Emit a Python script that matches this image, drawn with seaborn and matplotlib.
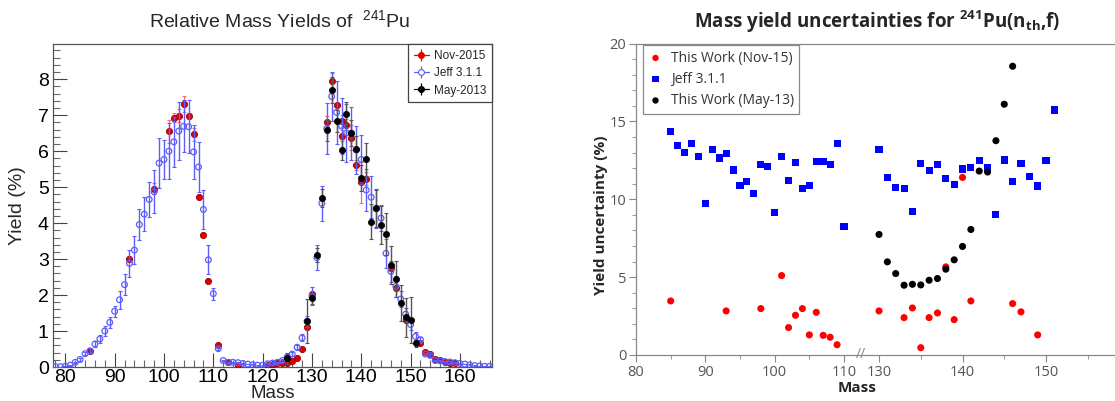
import numpy as np
import matplotlib
matplotlib.use("Agg")
import matplotlib.pyplot as plt
import seaborn as sns
from matplotlib.lines import Line2D
from matplotlib.legend_handler import HandlerTuple
from matplotlib.ticker import MultipleLocator, FixedLocator, NullFormatter

# ---------------- data : left panel (relative mass yields, %) ----------------
jeff_mass = list(range(78, 167))
jeff_yield = [0.01, 0.01, 0.02, 0.05, 0.13, 0.21, 0.37, 0.45, 0.64, 0.78,
              1.00, 1.24, 1.55, 1.87, 2.29, 2.88, 3.25, 3.96, 4.25, 4.66,
              4.87, 5.67, 5.77, 6.00, 6.26, 6.56, 6.69, 6.68, 5.98, 5.56,
              4.38, 2.98, 2.04, 0.51, 0.18, 0.13, 0.13, 0.12, 0.10, 0.08,
              0.06, 0.05, 0.05, 0.09, 0.11, 0.13, 0.18, 0.28, 0.36, 0.55,
              0.81, 1.27, 1.97, 3.04, 4.55, 6.63, 7.52, 7.08, 6.70, 6.51,
              6.50, 6.03, 5.77, 4.92, 4.72, 4.40, 4.14, 3.16, 2.66, 2.24,
              1.89, 1.47, 1.18, 0.85, 0.76, 0.36, 0.32, 0.18, 0.17, 0.15,
              0.14, 0.12, 0.10, 0.08, 0.06, 0.04, 0.03, 0.02, 0.02]
jeff_err = [0.003, 0.003, 0.005, 0.01, 0.02, 0.03, 0.05, 0.065, 0.086, 0.10,
            0.135, 0.16, 0.15, 0.25, 0.29, 0.37, 0.39, 0.43, 0.47, 0.48,
            0.60, 0.69, 0.53, 0.77, 0.70, 0.81, 0.72, 0.73, 0.74, 0.69,
            0.54, 0.40, 0.17, 0.05, 0.02, 0.015, 0.015, 0.015, 0.012, 0.01,
            0.01, 0.01, 0.01, 0.015, 0.02, 0.02, 0.03, 0.04, 0.05, 0.07,
            0.10, 0.16, 0.26, 0.35, 0.49, 0.71, 0.69, 0.87, 0.79, 0.80,
            0.74, 0.66, 0.69, 0.59, 0.59, 0.53, 0.37, 0.40, 0.30, 0.28,
            0.22, 0.16, 0.15, 0.13, 0.08, 0.04, 0.04, 0.02, 0.02, 0.02,
            0.02, 0.015, 0.01, 0.01, 0.01, 0.005, 0.005, 0.003, 0.003]

nov_mass = [85, 93, 98, 101, 102, 103, 104, 105, 106, 107, 108, 109, 111, 113, 115,
            121, 122, 123, 124, 125, 126, 127, 128, 129, 130, 133, 134, 135, 136, 136,
            137, 138, 139, 140, 141, 146, 147, 149, 152, 153, 154, 155, 156, 157, 158, 159]
nov_yield = [0.44, 3.01, 4.96, 6.55, 6.93, 6.99, 7.31, 6.98, 6.47, 4.73, 3.68, 2.39, 0.60, 0.13, 0.06,
             0.05, 0.07, 0.10, 0.11, 0.12, 0.17, 0.26, 0.49, 1.12, 2.02, 6.82, 7.94, 7.28, 6.84, 6.43,
             6.72, 6.38, 5.62, 5.13, 5.23, 2.76, 2.19, 1.32, 0.68, 0.43, 0.36, 0.23, 0.19, 0.14, 0.11, 0.10]
nov_err = [0.015, 0.085, 0.15, 0.33, 0.12, 0.18, 0.22, 0.09, 0.18, 0.06, 0.04, 0.016, 0.03, 0.01, 0.005,
           0.005, 0.005, 0.008, 0.01, 0.01, 0.01, 0.015, 0.03, 0.05, 0.06, 0.16, 0.24, 0.03, 0.16, 0.16,
           0.18, 0.36, 0.13, 0.58, 0.18, 0.09, 0.06, 0.017, 0.03, 0.02, 0.02, 0.01, 0.01, 0.01, 0.01, 0.01]

may_mass = [125, 129, 130, 131, 132, 133, 134, 135, 136, 137, 138, 139, 140, 141,
            142, 143, 144, 145, 146, 147, 148, 149, 150, 151]
may_yield = [0.24, 1.28, 1.91, 3.12, 4.69, 6.58, 7.70, 6.84, 6.04, 7.03, 6.51, 6.05, 5.25, 5.77,
             4.04, 4.42, 3.95, 3.69, 2.84, 2.45, 1.79, 1.38, 1.31, 0.66]
may_err = [0.15, 0.60, 0.15, 0.19, 0.25, 0.29, 0.35, 0.31, 0.29, 0.35, 0.36, 0.37, 0.37, 0.46,
           0.48, 0.52, 0.54, 0.59, 0.53, 0.50, 0.50, 0.55, 0.65, 0.10]

# ---------------- data : right panel (yield uncertainties, %) ----------------
unc_nov_mass = [85, 93, 98, 101, 102, 103, 104, 105, 106, 107, 108, 109,
                130, 133, 134, 135, 136, 137, 138, 139, 140, 141, 146, 147, 149]
unc_nov = [3.47, 2.83, 2.98, 5.10, 1.76, 2.55, 2.98, 1.29, 2.74, 1.26, 1.14, 0.66,
           2.83, 2.40, 3.02, 0.47, 2.40, 2.70, 5.66, 2.27, 11.40, 3.47, 3.30, 2.77, 1.29]
unc_jeff_mass = list(range(85, 111)) + list(range(130, 152))
unc_jeff = [14.36, 13.48, 13.01, 13.55, 12.73, 9.75, 13.18, 12.65, 12.95, 11.88,
            10.89, 11.15, 10.35, 12.22, 12.13, 9.15, 12.75, 11.21, 12.35, 10.70,
            10.87, 12.43, 12.43, 12.26, 13.59, 8.27,
            13.18, 11.40, 10.74, 10.68, 9.22, 12.28, 11.85, 12.22, 11.34, 10.95,
            11.94, 12.03, 12.48, 12.05, 9.05, 12.52, 11.15, 12.28, 11.49, 10.85,
            12.48, 15.73]
unc_may_mass = list(range(130, 147))
unc_may = [7.74, 5.98, 5.23, 4.48, 4.54, 4.50, 4.80, 4.91, 5.51, 6.11,
           6.97, 8.06, 11.81, 11.75, 13.76, 16.10, 18.54]

left_ticks = [80, 90, 100, 110, 120, 130, 140, 150, 160]
right_ticks = [80, 90, 100, 110, 130, 140, 150]

# ---------------- style ----------------
sns.set_theme(style="white")
plt.rcParams["font.family"] = ["Liberation Sans", "DejaVu Sans"]
plt.rcParams["mathtext.default"] = "regular"

W, H = 1115, 401
fig = plt.figure(figsize=(W / 100, H / 100), dpi=100)
ax1 = fig.add_axes([53 / W, 34 / H, 439 / W, 323 / H])
ax2 = fig.add_axes([636 / W, 46 / H, 479 / W, 311.5 / H])

# ---------------- left panel ----------------
red_c, red_e, red_bar = "#dd0000", "#990000", "#ff6a6a"
blue_c = "#5c5cff"
blk_c, blk_bar = "#000000", "#555555"

ax1.errorbar(nov_mass, nov_yield, yerr=nov_err, fmt="none", ecolor=red_bar,
             elinewidth=0.9, capsize=1.5, capthick=0.8, zorder=2)
sns.scatterplot(x=nov_mass, y=nov_yield, ax=ax1, marker="o", s=20,
                color=red_c, edgecolor=red_e, linewidth=0.6, zorder=3, legend=False)
ax1.errorbar(jeff_mass, jeff_yield, yerr=jeff_err, fmt="none", ecolor=blue_c,
             elinewidth=1.0, capsize=1.5, capthick=0.8, zorder=4)
sns.scatterplot(x=jeff_mass, y=jeff_yield, ax=ax1, marker="o", s=17,
                facecolor="none", edgecolor=blue_c, linewidth=0.9, zorder=5, legend=False)
ax1.errorbar(may_mass, may_yield, yerr=may_err, fmt="none", ecolor=blk_bar,
             elinewidth=1.0, capsize=1.5, capthick=0.8, zorder=6)
sns.scatterplot(x=may_mass, y=may_yield, ax=ax1, marker="o", s=20,
                color=blk_c, edgecolor=blk_c, linewidth=0.5, zorder=7, legend=False)

ax1.set_xlim(77.5, 166.5)
ax1.set_ylim(0, 8.98)
ax1.xaxis.set_major_locator(FixedLocator(left_ticks))
ax1.xaxis.set_minor_locator(MultipleLocator(2))
ax1.yaxis.set_major_locator(MultipleLocator(1))
ax1.yaxis.set_minor_locator(MultipleLocator(0.2))
ax1.tick_params(axis="both", which="major", direction="in", length=10, width=0.8,
                color="#444444", labelsize=14, labelcolor="black",
                bottom=True, left=True, top=False, right=False)
ax1.tick_params(axis="x", which="major", pad=1.5)
ax1.tick_params(axis="y", which="major", pad=3)
ax1.tick_params(axis="both", which="minor", direction="in", length=5, width=0.8,
                color="#666666", bottom=True, left=True, top=False, right=False)
for sp in ax1.spines.values():
    sp.set_color("#555555")
    sp.set_linewidth(0.9)
ax1.set_xlabel("Mass", fontsize=13.5)
ax1.xaxis.label.set_va("center")
ax1.xaxis.set_label_coords(0.5, -27 / 323)
ax1.set_ylabel("Yield (%)", fontsize=14)
ax1.yaxis.label.set_va("center")
ax1.yaxis.set_label_coords(-35 / 439, 0.5)
fig.text(280 / W, 1 - 20 / H, "Relative Mass Yields of  $^{241}$Pu",
         ha="center", va="center", fontsize=14)


def root_handle(col, fill):
    hline = Line2D([], [], color=col, lw=0.9)
    vline = Line2D([], [], color=col, lw=0, marker="|", markersize=8, markeredgewidth=0.9)
    dot = Line2D([], [], ls="", marker="o", markersize=4.2,
                 markerfacecolor=(col if fill else "white"), markeredgecolor=col,
                 markeredgewidth=0.8)
    return (hline, vline, dot)


leg1 = ax1.legend([root_handle(red_c, True), root_handle(blue_c, False), root_handle(blk_c, True)],
                  ["Nov-2015", "Jeff 3.1.1", "May-2013"],
                  handler_map={tuple: HandlerTuple(ndivide=1)},
                  loc="upper right", bbox_to_anchor=(1.0, 1.0), borderaxespad=0,
                  fontsize=8.5, frameon=True, fancybox=False, framealpha=1,
                  edgecolor="#444444", handlelength=1.3, handletextpad=0.4,
                  borderpad=0.5, labelspacing=0.45)
leg1.get_frame().set_linewidth(0.9)

# ---------------- right panel (broken x axis) ----------------
_kx = [0, 80, 110, 130, 400]
_ku = [-600, 0, 208, 243, 243 + 270 * 8.35]


def fwd(x):
    return np.interp(x, _kx, _ku)


def inv(u):
    return np.interp(u, _ku, _kx)


ax2.set_xscale("function", functions=(fwd, inv))
rfont = ["Open Sans", "DejaVu Sans"]

sns.scatterplot(x=unc_nov_mass, y=unc_nov, ax=ax2, marker="o", s=26, color="#ff0000",
                edgecolor="none", label="This Work (Nov-15)", zorder=3)
sns.scatterplot(x=unc_jeff_mass, y=unc_jeff, ax=ax2, marker="s", s=26, color="#0000ff",
                edgecolor="none", label="Jeff 3.1.1", zorder=4)
sns.scatterplot(x=unc_may_mass, y=unc_may, ax=ax2, marker="o", s=26, color="#000000",
                edgecolor="none", label="This Work (May-13)", zorder=5)

ax2.set_xlim(80, 158.26)
ax2.set_ylim(0, 20)
ax2.xaxis.set_major_locator(FixedLocator(right_ticks))
ax2.xaxis.set_minor_locator(FixedLocator([85, 95, 105, 135, 145, 155]))
ax2.xaxis.set_minor_formatter(NullFormatter())
ax2.yaxis.set_major_locator(MultipleLocator(5))
ax2.yaxis.set_minor_locator(MultipleLocator(1))
ax2.tick_params(axis="both", which="major", direction="out", length=5, width=0.8,
                color="#888888", labelsize=10.5, labelcolor="#555555", pad=2,
                bottom=True, left=True, top=False, right=False)
ax2.tick_params(axis="both", which="minor", direction="out", length=3, width=0.7,
                color="#999999", bottom=True, left=True, top=False, right=False)
for lab in ax2.get_xticklabels() + ax2.get_yticklabels():
    lab.set_fontfamily(rfont)
for k, sp in ax2.spines.items():
    sp.set_color("#888888")
    sp.set_linewidth(0.9)
ax2.spines["right"].set_visible(False)

ax2.text(119.5, 0.0, "//", ha="center", va="center", fontsize=10, color="#888888",
         family=rfont, zorder=6)

ax2.set_xlabel("Mass", fontsize=11, fontweight="bold", family=rfont)
ax2.xaxis.label.set_va("center")
ax2.xaxis.set_label_coords((857 - 636) / 479, -33 / 311.5)
ax2.set_ylabel("Yield uncertainty (%)", fontsize=11, fontweight="bold", family=rfont)
ax2.yaxis.label.set_va("center")
ax2.yaxis.set_label_coords(-35 / 479, 0.45)
fig.text(877 / W, 1 - 22 / H, "Mass yield uncertainties for $^{241}$Pu(n$_{th}$,f)",
         ha="center", va="center", fontsize=13.5, fontweight="bold", family=rfont)

leg2 = ax2.legend(loc="upper left", bbox_to_anchor=(7 / 479, 0.995), borderaxespad=0,
                  prop={"family": rfont, "size": 10}, frameon=True, fancybox=False,
                  framealpha=1, edgecolor="#888888", handlelength=1.0, handletextpad=0.6,
                  borderpad=0.4, labelspacing=0.45, markerscale=0.9)
leg2.get_frame().set_linewidth(0.9)
for t in leg2.get_texts():
    t.set_color("#333333")

fig.savefig("out.png", dpi=100)
